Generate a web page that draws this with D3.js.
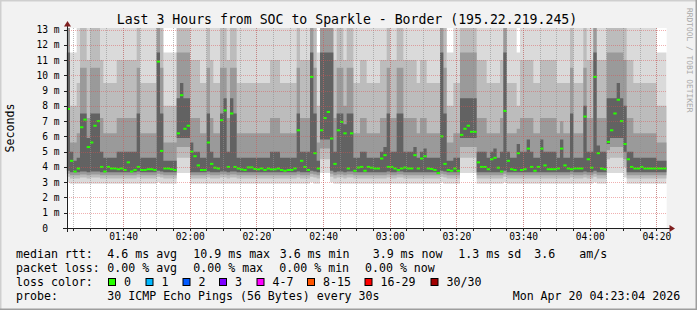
<!DOCTYPE html>
<html>
<head>
<meta charset="UTF-8">
<title>Last 3 Hours from SOC to Sparkle - Border</title>
<script src="https://d3js.org/d3.v7.min.js"></script>
<style>
  html, body { margin: 0; padding: 0; background: #f2f2f2; }
  svg text { font-family: "DejaVu Sans Mono", monospace; white-space: pre; }
</style>
</head>
<body>
<svg id="chart" width="697" height="310"></svg>
<script>
// one value per minute, 01:23:04 -> 04:23:04 (values in ms)
const startTime = new Date(2026, 3, 20, 1, 23, 4);
const endTime = new Date(2026, 3, 20, 4, 23, 4);

const median = [
  7.8,4.4,3.7,3.9,6.6,7.1,5.3,5.6,6.7,7.0,
  4.0,3.7,4.0,3.9,3.9,3.85,3.9,3.8,4.3,3.7,
  3.8,4.0,3.8,3.8,3.85,3.85,3.8,10.9,5.05,3.9,
  3.9,3.85,3.8,6.2,8.7,6.5,6.7,5.0,4.7,4.1,
  3.8,3.8,5.6,4.2,3.95,3.9,7.06,7.7,4.0,7.5,
  4.0,3.9,3.84,3.8,3.97,3.97,3.87,3.84,3.9,3.8,
  3.9,3.84,3.84,3.9,3.8,3.75,3.8,3.8,3.9,6.4,
  4.4,4.0,3.8,9.9,4.9,3.9,6.4,7.2,7.6,5.86,
  4.2,6.4,6.95,6.2,3.9,6.2,3.75,3.96,4.0,3.75,
  4.0,3.95,3.9,3.9,4.55,4.77,4.0,4.0,3.9,3.8,
  3.9,3.96,3.9,3.9,4.77,3.9,4.55,4.7,3.9,3.87,
  3.8,3.6,6.0,4.2,3.8,3.75,3.9,3.75,6.1,6.5,
  6.7,6.3,6.3,4.3,4.0,4.0,3.85,4.5,4.6,3.95,
  3.7,7.67,4.4,3.85,3.8,4.9,3.8,3.85,5.2,4.0,
  3.75,4.0,5.2,4.1,3.85,3.85,3.85,3.9,5.2,4.1,
  3.9,3.85,3.9,3.9,3.9,7.3,4.5,3.95,9.9,4.9,
  3.9,3.85,5.64,6.4,7.5,8.4,7.0,5.5,4.5,4.0,
  3.9,3.9,4.0,3.9,3.9,3.9,3.9,3.9,3.9,3.9
];

// smoke: spread of the 30 pings in each step
const pingLow = [
  3.0,2.9,2.9,2.9,2.9,2.9,2.9,2.9,2.9,2.9,
  2.9,2.9,2.9,2.9,2.9,2.9,2.9,2.9,2.9,2.9,
  2.9,2.9,2.9,2.9,2.9,2.9,2.9,3.0,2.9,2.9,
  2.9,2.9,2.9,3.6,3.6,3.6,3.6,2.9,2.9,2.9,
  2.9,2.9,2.9,2.9,2.9,2.9,2.9,2.9,2.9,2.9,
  2.9,2.9,2.9,2.9,2.9,2.9,2.9,2.9,2.9,2.9,
  2.9,2.9,2.9,2.9,2.9,2.9,2.9,2.9,2.9,2.9,
  2.9,2.9,2.9,3.0,2.9,2.9,3.6,3.6,3.6,3.0,
  2.9,2.9,2.9,2.9,2.9,2.9,2.9,2.9,2.9,2.9,
  2.9,2.9,2.9,2.9,2.9,2.9,2.9,2.9,2.9,2.9,
  2.9,2.9,2.9,2.9,2.9,2.9,2.9,2.9,2.9,2.9,
  2.9,2.9,3.0,2.9,2.9,2.9,2.9,2.9,3.6,3.6,
  3.6,3.6,3.6,2.9,2.9,2.9,2.9,2.9,2.9,2.9,
  2.9,3.0,2.9,2.9,2.9,2.9,2.9,2.9,2.9,2.9,
  2.9,2.9,2.9,2.9,2.9,2.9,2.9,2.9,2.9,2.9,
  2.9,2.9,2.9,2.9,2.9,2.9,2.9,2.9,3.0,2.9,
  2.9,2.9,3.6,3.6,3.6,3.6,3.6,3.3,2.9,2.9,
  2.9,2.9,2.9,2.9,2.9,2.9,2.9,2.9,2.9,2.9
];
const pingQ10 = [
  3.35,3.25,3.25,3.25,3.3,3.3,3.25,3.3,3.3,3.3,
  3.25,3.25,3.25,3.25,3.25,3.25,3.25,3.25,3.25,3.25,
  3.25,3.3,3.25,3.25,3.25,3.25,3.25,3.35,3.3,3.25,
  3.25,3.25,3.25,4.6,4.6,4.6,4.6,3.25,3.25,3.25,
  3.25,3.25,3.3,3.25,3.25,3.25,3.3,3.3,3.25,3.3,
  3.3,3.25,3.25,3.25,3.25,3.25,3.25,3.25,3.25,3.25,
  3.25,3.25,3.25,3.25,3.25,3.25,3.25,3.25,3.25,3.3,
  3.25,3.25,3.25,3.35,3.3,3.25,4.5,4.5,4.5,3.35,
  3.25,3.3,3.3,3.25,3.3,3.3,3.25,3.25,3.25,3.25,
  3.25,3.25,3.25,3.25,3.25,3.25,3.3,3.25,3.25,3.3,
  3.3,3.25,3.25,3.25,3.25,3.25,3.25,3.25,3.25,3.25,
  3.25,3.25,3.35,3.3,3.25,3.25,3.25,3.25,4.6,4.6,
  4.6,4.6,4.6,3.25,3.25,3.25,3.25,3.25,3.25,3.25,
  3.25,3.35,3.25,3.25,3.25,3.25,3.25,3.25,3.25,3.25,
  3.25,3.25,3.25,3.25,3.25,3.25,3.25,3.25,3.25,3.25,
  3.25,3.3,3.25,3.25,3.25,3.3,3.25,3.25,3.35,3.25,
  3.25,3.25,4.5,4.6,4.6,4.6,4.6,4.0,3.25,3.25,
  3.25,3.25,3.25,3.25,3.25,3.25,3.25,3.25,3.25,3.25
];
const pingQ25 = [
  3.55,3.45,3.45,3.45,3.5,3.5,3.45,3.5,3.5,3.5,
  3.45,3.45,3.45,3.45,3.45,3.45,3.45,3.45,3.45,3.45,
  3.45,3.5,3.45,3.45,3.45,3.45,3.45,3.55,3.5,3.45,
  3.45,3.45,3.45,5.3,5.3,5.3,5.3,3.45,3.45,3.45,
  3.45,3.45,3.5,3.45,3.45,3.45,3.5,3.5,3.45,3.5,
  3.5,3.45,3.45,3.45,3.45,3.45,3.45,3.45,3.45,3.45,
  3.45,3.45,3.45,3.45,3.45,3.45,3.45,3.45,3.45,3.5,
  3.45,3.45,3.45,3.55,3.5,3.45,5.2,5.2,5.2,3.55,
  3.45,3.5,3.5,3.45,3.5,3.5,3.45,3.45,3.45,3.45,
  3.45,3.45,3.45,3.45,3.45,3.45,3.5,3.45,3.45,3.5,
  3.5,3.45,3.45,3.45,3.45,3.45,3.45,3.45,3.45,3.45,
  3.45,3.45,3.55,3.5,3.45,3.45,3.45,3.45,5.3,5.3,
  5.3,5.3,5.3,3.45,3.45,3.45,3.45,3.45,3.45,3.45,
  3.45,3.55,3.45,3.45,3.45,3.45,3.45,3.45,3.45,3.45,
  3.45,3.45,3.45,3.45,3.45,3.45,3.45,3.45,3.45,3.45,
  3.45,3.5,3.45,3.45,3.45,3.5,3.45,3.45,3.55,3.45,
  3.45,3.45,5.1,5.3,5.3,5.3,5.3,4.5,3.45,3.45,
  3.45,3.45,3.45,3.45,3.45,3.45,3.45,3.45,3.45,3.45
];
const pingQ40 = [
  3.75,3.65,3.65,3.65,3.7,3.7,3.65,3.7,3.7,3.7,
  3.65,3.65,3.65,3.65,3.65,3.65,3.65,3.65,3.65,3.65,
  3.65,3.7,3.65,3.65,3.65,3.65,3.65,3.75,3.7,3.65,
  3.65,3.65,3.65,5.9,5.9,5.9,5.9,3.65,3.65,3.65,
  3.65,3.65,3.7,3.65,3.65,3.65,3.7,3.7,3.65,3.7,
  3.7,3.65,3.65,3.65,3.65,3.65,3.65,3.65,3.65,3.65,
  3.65,3.65,3.65,3.65,3.65,3.65,3.65,3.65,3.65,3.7,
  3.65,3.65,3.65,3.75,3.7,3.65,5.8,5.8,5.8,3.75,
  3.65,3.7,3.7,3.65,3.7,3.7,3.65,3.65,3.65,3.65,
  3.65,3.65,3.65,3.65,3.65,3.65,3.7,3.65,3.65,3.7,
  3.7,3.65,3.65,3.65,3.65,3.65,3.65,3.65,3.65,3.65,
  3.65,3.55,3.75,3.7,3.65,3.65,3.65,3.65,5.9,5.9,
  5.9,5.9,5.9,3.65,3.65,3.65,3.65,3.65,3.65,3.65,
  3.65,3.75,3.65,3.65,3.65,3.65,3.65,3.65,3.65,3.65,
  3.65,3.65,3.65,3.65,3.65,3.65,3.65,3.65,3.65,3.65,
  3.65,3.7,3.65,3.65,3.65,3.7,3.65,3.65,3.75,3.65,
  3.65,3.65,5.5,5.9,5.9,5.9,5.9,5.0,3.65,3.65,
  3.65,3.65,3.65,3.65,3.65,3.65,3.65,3.65,3.65,3.65
];
const pingQ60 = [
  11.5,5.0,4.4,4.6,7.5,7.5,5.9,7.5,7.5,7.5,
  5.0,4.6,4.6,4.6,4.6,5.0,5.0,5.0,5.0,5.0,
  5.0,7.5,4.6,4.6,4.6,4.6,4.6,11.5,7.5,4.4,
  4.4,4.4,4.4,8.5,9.5,8.5,8.5,5.6,5.0,5.0,
  4.6,4.6,7.5,5.0,4.6,4.6,7.5,8.5,5.0,8.5,
  7.5,4.6,4.6,4.6,4.6,4.6,4.6,4.6,4.6,4.6,
  4.6,5.0,5.0,5.0,4.6,4.6,4.6,4.6,4.6,7.5,
  5.0,5.0,5.0,11.5,7.5,4.4,11.5,11.5,11.5,11.5,
  5.0,7.5,7.5,6.8,7.5,7.5,4.6,4.6,5.0,5.0,
  4.6,4.6,4.6,4.6,5.0,5.3,7.5,5.0,5.0,7.5,
  7.5,5.0,5.0,5.0,5.3,4.6,5.0,5.2,4.6,4.6,
  4.6,4.6,11.5,7.5,4.4,4.4,4.6,4.6,8.5,8.5,
  8.5,8.5,8.5,5.0,5.0,5.0,4.6,5.0,5.2,4.6,
  5.0,11.5,5.0,4.6,4.6,5.5,5.0,5.0,5.8,5.0,
  4.6,4.6,5.8,5.0,5.0,5.0,5.0,4.6,5.8,4.6,
  4.6,7.5,4.6,4.6,4.6,8.0,5.0,5.0,11.5,5.4,
  5.0,5.0,8.5,8.5,8.5,9.5,8.5,8.0,5.0,5.0,
  4.6,4.6,4.6,4.6,4.6,4.6,4.6,4.4,4.4,4.4
];
const pingQ75 = [
  14,5.6,5.6,6.2,10.5,10.5,7.2,10.5,10.5,10.5,
  7.2,6.2,6.2,6.2,6.2,7.2,7.2,7.2,7.2,7.2,
  7.2,10.5,6.2,6.2,6.2,6.2,6.2,14,10.5,5.6,
  5.6,5.6,5.6,11.5,11.5,11.5,11.5,7.2,7.2,7.2,
  6.2,6.2,10.5,7.2,6.2,6.2,10.5,10.5,7.2,10.5,
  10.5,6.2,6.2,6.2,6.2,6.2,6.2,6.2,6.2,6.2,
  6.2,7.2,7.2,7.2,6.2,6.2,6.2,6.2,6.2,10.5,
  7.2,7.2,7.2,14,10.5,5.6,14,14,14,14,
  7.2,10.5,10.5,8.0,10.5,10.5,6.2,6.2,7.2,7.2,
  6.2,6.2,6.2,6.2,7.2,7.2,10.5,7.2,7.2,10.5,
  10.5,7.2,7.2,7.2,7.2,6.2,7.2,7.2,6.2,6.2,
  6.2,6.2,14,10.5,5.6,5.6,6.2,6.2,11.5,11.5,
  11.5,11.5,11.5,7.2,7.2,7.2,6.2,6.2,6.2,6.2,
  7.2,14,6.2,6.2,6.2,6.5,7.2,7.2,7.2,7.2,
  6.2,6.2,7.2,7.2,7.2,7.2,7.2,6.2,7.0,6.2,
  6.2,10.5,6.2,6.2,6.2,10.5,7.2,7.2,14,7.2,
  7.2,7.2,11.5,11.5,11.5,11.5,11.5,11,7.2,7.2,
  6.2,6.2,6.2,6.2,6.2,6.2,6.2,5.6,5.6,5.6
];
const pingQ90 = [
  14,8,8,9.5,13.5,13.5,11,13.5,13.5,13.5,
  11,9.5,9.5,9.5,9.5,11,11,11,11,11,
  11,13.5,9.5,9.5,9.5,9.5,9.5,14,13.5,8,
  8,8,8,14,14,14,14,11,11,11,
  9.5,9.5,13.5,11,9.5,9.5,13.5,13.5,11,13.5,
  13.5,9.5,9.5,9.5,9.5,9.5,9.5,9.5,9.5,9.5,
  9.5,11,11,11,9.5,9.5,9.5,9.5,9.5,13.5,
  11,11,11,14,13.5,8,14,14,14,14,
  11,13.5,13.5,11,13.5,13.5,9.5,9.5,11,11,
  9.5,9.5,9.5,9.5,11,11,13.5,11,11,13.5,
  13.5,11,11,11,11,9.5,11,11,9.5,9.5,
  9.5,9.5,14,13.5,8,8,9.5,9.5,14,14,
  14,14,14,11,11,11,9.5,9.5,9.5,9.5,
  11,14,9.5,9.5,9.5,8,11,11,11,11,
  9.5,9.5,11,11,11,11,11,9.5,9.5,9.5,
  9.5,13.5,9.5,9.5,9.5,13.5,11,11,14,11,
  11,11,14,14,14,14,14,13.5,11,11,
  9.5,9.5,9.5,9.5,9.5,9.5,9.5,8,8,8
];
const pingHigh = [
  14,11.5,11.5,14,14,14,14,14,14,14,
  14,14,14,14,14,14,14,14,14,14,
  14,14,14,14,14,14,14,14,14,11.5,
  11.5,11.5,11.5,14,14,14,14,14,14,14,
  14,14,14,14,14,14,14,14,14,14,
  14,14,14,14,14,14,14,14,14,14,
  14,14,14,14,14,14,14,14,14,14,
  14,14,14,14,14,11.5,14,14,14,14,
  14,14,14,14,14,14,14,14,14,14,
  14,14,14,14,14,14,14,14,14,14,
  14,14,14,14,14,14,14,14,14,14,
  14,14,14,14,11.5,11.5,14,14,14,14,
  14,14,14,14,14,14,14,14,14,14,
  14,14,14,14,14,11.5,14,14,14,14,
  14,14,14,14,14,14,14,14,14,14,
  14,14,14,14,14,14,14,14,14,14,
  14,14,14,14,14,14,14,14,14,14,
  14,14,14,14,14,14,14,11.5,11.5,11.5
];

const yTicks = [0,1,2,3,4,5,6,7,8,9,10,11,12,13];
const legendStats = [
  { row: 0, x: 16,    text: "median rtt:" },
  { row: 0, x: 107.3, text: "4.6 ms avg" },
  { row: 0, x: 193.3, text: "10.9 ms max" },
  { row: 0, x: 279.7, text: "3.6 ms min" },
  { row: 0, x: 372.7, text: "3.9 ms now" },
  { row: 0, x: 458.3, text: "1.3 ms sd" },
  { row: 0, x: 534.3, text: "3.6" },
  { row: 0, x: 579.3, text: "am/s" },
  { row: 1, x: 16,    text: "packet loss:" },
  { row: 1, x: 107.3, text: "0.00 % avg" },
  { row: 1, x: 193.3, text: "0.00 % max" },
  { row: 1, x: 279.3, text: "0.00 % min" },
  { row: 1, x: 365,   text: "0.00 % now" },
  { row: 2, x: 16,    text: "loss color:" },
  { row: 3, x: 16,    text: "probe:" },
  { row: 3, x: 107.3, text: "30 ICMP Echo Pings (56 Bytes) every 30s" },
  { row: 3, x: 512.7, text: "Mon Apr 20 04:23:04 2026" }
];
const lossLabels = ["0", "1", "2", "3", "4-7", "8-15", "16-29", "30/30"];
const lossColors = ["#26ff00", "#00b8ff", "#0059ff", "#7e00ff", "#ff00ff", "#ff5500", "#ff0000", "#a10000"];
const lossBoxX = [108.5, 146, 183, 219.5, 257, 307.5, 365, 431];

const svg = d3.select("#chart");
const W = 697, H = 310;
const plot = { left: 66.67, right: 666.67, top: 28, bottom: 228 };

const x = d3.scaleTime().domain([startTime, endTime]).range([plot.left, plot.right]);
const y = d3.scaleLinear().domain([0, 13.1]).range([plot.bottom, plot.top]);

// frame
svg.append("rect").attr("width", W).attr("height", H).attr("fill", "#f2f2f2");
svg.append("path").attr("d", `M0,${H} V0 H${W}`).attr("fill", "none").attr("stroke", "#cfcfcf").attr("stroke-width", 3);
svg.append("path").attr("d", `M0,${H} H${W} V0`).attr("fill", "none").attr("stroke", "#9e9e9e").attr("stroke-width", 3);

svg.append("rect")
  .attr("x", plot.left).attr("y", plot.top)
  .attr("width", plot.right - plot.left).attr("height", plot.bottom - plot.top)
  .attr("fill", "#ffffff");

svg.append("clipPath").attr("id", "plotclip").append("rect")
  .attr("x", plot.left).attr("y", plot.top)
  .attr("width", plot.right - plot.left).attr("height", plot.bottom - plot.top);

// step rows, plus one extra so the last step gets its width
const rows = median.map((m, i) => ({
  t: d3.timeMinute.offset(startTime, i),
  med: m, low: pingLow[i], q10: pingQ10[i], q25: pingQ25[i], q40: pingQ40[i],
  q60: pingQ60[i], q75: pingQ75[i], q90: pingQ90[i], high: pingHigh[i]
}));
rows.push(Object.assign({}, rows[rows.length - 1], { t: endTime }));

const smoke = svg.append("g").attr("clip-path", "url(#plotclip)");
const bands = [
  { lo: "low", hi: "high", color: "#dadada" },
  { lo: "q10", hi: "q90", color: "#bcbcbc" },
  { lo: "q25", hi: "q75", color: "#9a9a9a" },
  { lo: "q40", hi: "q60", color: "#626262" }
];
bands.forEach(b => {
  const area = d3.area()
    .x(d => x(d.t))
    .y0(d => y(d[b.lo]))
    .y1(d => y(d[b.hi]))
    .curve(d3.curveStepAfter);
  smoke.append("path").datum(rows).attr("d", area).attr("fill", b.color);
});

// median dashes
smoke.selectAll("rect.med")
  .data(rows.slice(0, -1))
  .join("rect")
  .attr("class", "med")
  .attr("x", d => x(d.t))
  .attr("width", d => x(d3.timeMinute.offset(d.t, 1)) - x(d.t))
  .attr("y", d => y(d.med) - 1)
  .attr("height", 2)
  .attr("fill", "#26ff00");

// grid: grey every 5 min, red every 20 min and every labelled ms
const grid = svg.append("g").attr("shape-rendering", "crispEdges");
const minorTimes = x.ticks(d3.timeMinute.every(5));
const majorTimes = x.ticks(d3.timeMinute.every(20));
const minorColor = "rgba(143,143,143,0.6)";
const majorColor = "rgba(222,80,80,0.45)";
minorTimes.forEach(t => {
  grid.append("line")
    .attr("x1", Math.round(x(t)) + 0.5).attr("x2", Math.round(x(t)) + 0.5)
    .attr("y1", plot.top).attr("y2", plot.bottom)
    .attr("stroke", minorColor).attr("stroke-dasharray", "1,1");
});
yTicks.filter(v => v > 0).forEach(v => {
  grid.append("line")
    .attr("x1", plot.left).attr("x2", plot.right)
    .attr("y1", Math.round(y(v)) + 0.5).attr("y2", Math.round(y(v)) + 0.5)
    .attr("stroke", majorColor).attr("stroke-dasharray", "1,1");
});
majorTimes.forEach(t => {
  grid.append("line")
    .attr("x1", Math.round(x(t)) + 0.5).attr("x2", Math.round(x(t)) + 0.5)
    .attr("y1", plot.top).attr("y2", plot.bottom)
    .attr("stroke", majorColor).attr("stroke-dasharray", "1,1");
});

// axes
const axisColor = "#1f1f1f";
svg.append("line").attr("x1", 63).attr("x2", 670).attr("y1", 228.5).attr("y2", 228.5)
  .attr("stroke", axisColor);
svg.append("line").attr("x1", 67.5).attr("x2", 67.5).attr("y1", 232).attr("y2", 25)
  .attr("stroke", axisColor);
svg.append("path").attr("d", "M64,26.5 L71,26.5 L67.5,21 Z").attr("fill", "#7f1f1f");
svg.append("path").attr("d", "M669.5,225 L669.5,232 L675,228.5 Z").attr("fill", "#7f1f1f");

const ticks = svg.append("g").attr("shape-rendering", "crispEdges");
minorTimes.forEach(t => {
  const px = Math.round(x(t)) + 0.5;
  ticks.append("line").attr("x1", px).attr("x2", px).attr("y1", 228).attr("y2", 231)
    .attr("stroke", axisColor);
});
yTicks.forEach(v => {
  const py = Math.round(y(v)) + 0.5;
  ticks.append("line").attr("x1", 64).attr("x2", 67).attr("y1", py).attr("y2", py)
    .attr("stroke", axisColor);
});

const xAxis = d3.axisBottom(x)
  .tickValues(majorTimes)
  .tickFormat(d3.timeFormat("%H:%M"))
  .tickSize(0)
  .tickPadding(0);
svg.append("g")
  .attr("transform", "translate(0,233)")
  .call(xAxis)
  .call(g => g.select(".domain").remove())
  .selectAll("text")
  .attr("dy", "0.71em")
  .attr("font-size", "9.6px")
  .attr("font-family", "DejaVu Sans Mono")
  .attr("fill", "#000");

svg.append("g")
  .selectAll("text")
  .data(yTicks)
  .join("text")
  .attr("x", 59.5)
  .attr("y", d => y(d) + 3.5)
  .attr("text-anchor", "end")
  .attr("font-size", "9.6px")
  .attr("xml:space", "preserve")
  .text(d => d === 0 ? "0  " : d + " m");

// titles
svg.append("text")
  .attr("x", 347).attr("y", 23.5)
  .attr("text-anchor", "middle")
  .attr("font-size", "13.2px")
  .text("Last 3 Hours from SOC to Sparkle - Border (195.22.219.245)");

svg.append("text")
  .attr("transform", "translate(14,128) rotate(-90)")
  .attr("text-anchor", "middle")
  .attr("font-size", "11.6px")
  .text("Seconds");

svg.append("text")
  .attr("transform", "translate(686.5,8) rotate(90)")
  .attr("font-size", "7.9px")
  .attr("fill", "#a8a8a8")
  .text("RRDTOOL / TOBI OETIKER");

// legend
const rowBase = [257.5, 271.5, 285.5, 299.5];
svg.append("g")
  .selectAll("text")
  .data(legendStats)
  .join("text")
  .attr("x", d => d.x)
  .attr("y", d => rowBase[d.row])
  .attr("font-size", "11.6px")
  .attr("xml:space", "preserve")
  .text(d => d.text);

const lossG = svg.append("g");
lossLabels.forEach((lab, i) => {
  lossG.append("rect")
    .attr("x", lossBoxX[i]).attr("y", 278.5)
    .attr("width", 7).attr("height", 7)
    .attr("fill", lossColors[i])
    .attr("stroke", "#000").attr("stroke-width", 1);
  lossG.append("text")
    .attr("x", lossBoxX[i] + 15.5).attr("y", rowBase[2])
    .attr("font-size", "11.6px")
    .text(lab);
});
</script>
</body>
</html>
